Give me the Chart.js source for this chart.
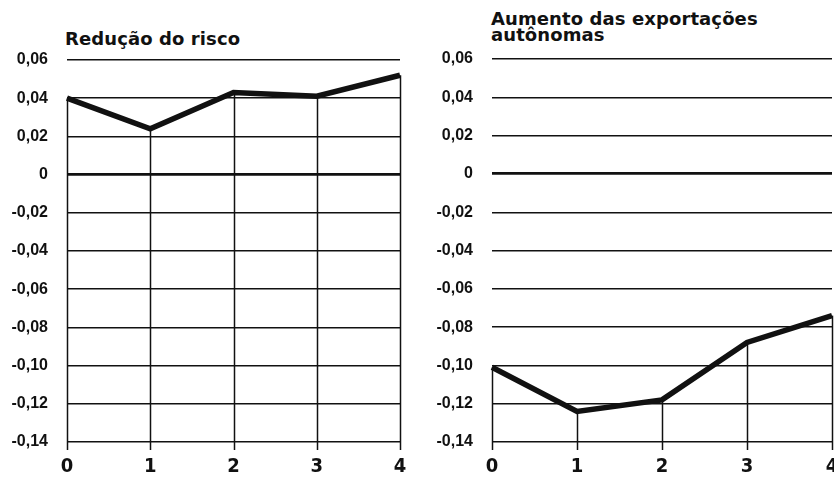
<!DOCTYPE html>
<html>
<head>
<meta charset="utf-8">
<script src="https://cdn.jsdelivr.net/npm/chart.js@4"></script>
<style>
  body { margin: 0; background: #fff; }
  #wrap { position: relative; width: 834px; height: 477px; overflow: hidden; }
  .box { position: absolute; top: 0; height: 477px; }
  .title { position: absolute; font: bold 18px 'DejaVu Sans', sans-serif; line-height: 16px; color: #111; letter-spacing: 0.1px; }
</style>
</head>
<body>
<div id="wrap">
  <div class="title" style="left:65px; top:31px;">Redução do risco</div>
  <div class="title" style="left:491px; top:11px;">Aumento das exportações<br>autônomas</div>
  <div class="box" style="left:0; width:420px;"><canvas id="left"></canvas></div>
  <div class="box" style="left:420px; width:414px;"><canvas id="right"></canvas></div>
</div>
<script>
// horizon (periods)
const periods = [0, 1, 2, 3, 4];
// impulse responses
const riskReduction = [0.040, 0.024, 0.043, 0.041, 0.052];
const exportIncrease = [-0.101, -0.124, -0.118, -0.088, -0.074];
// y axis range and step
const yMin = -0.14;
const yMax = 0.06;
const yStep = 0.02;

const fmt = v => Math.abs(v) < 1e-9 ? '0' : v.toFixed(2).replace('.', ',');

// vertical lines dropped from each point down past the axis
const dropLines = {
  id: 'dropLines',
  beforeDatasetsDraw(chart) {
    const { ctx, chartArea, scales } = chart;
    const ds = chart.data.datasets[0].data;
    ctx.save();
    ctx.strokeStyle = '#111';
    ctx.lineWidth = 1.5;
    ds.forEach(p => {
      const x = Math.round(scales.x.getPixelForValue(p.x)) + 0.5;
      const y = scales.y.getPixelForValue(p.y);
      ctx.beginPath();
      ctx.moveTo(x, y);
      ctx.lineTo(x, chartArea.bottom + 8);
      ctx.stroke();
    });
    ctx.restore();
  }
};

function makeChart(id, values, yWidth, padRight, top) {
  const el = document.getElementById(id);
  return new Chart(el, {
    type: 'line',
    data: {
      datasets: [{
        data: periods.map((p, i) => ({ x: p, y: values[i] })),
        borderColor: '#111',
        borderWidth: 5.5,
        pointRadius: 0,
        tension: 0,
        clip: 6
      }]
    },
    options: {
      responsive: true,
      maintainAspectRatio: false,
      animation: false,
      layout: { padding: { top: top, right: padRight, left: 0, bottom: 0 } },
      plugins: { legend: { display: false }, tooltip: { enabled: false } },
      scales: {
        x: {
          type: 'linear',
          min: 0, max: 4,
          grid: { display: false },
          border: { display: false },
          ticks: {
            stepSize: 1,
            padding: 5,
            color: '#111',
            font: { family: "'Liberation Sans Narrow', 'DejaVu Sans Condensed', sans-serif", weight: 'bold', size: 20 }
          },
          afterFit: s => { s.height = 35; s.paddingLeft = 0; s.paddingRight = 0; }
        },
        y: {
          min: yMin, max: yMax,
          border: { display: false },
          grid: {
            color: '#111',
            drawTicks: false,
            lineWidth: c => Math.abs(c.tick.value) < 1e-9 ? 2.8 : 1.4
          },
          ticks: {
            stepSize: yStep,
            padding: 19,
            color: '#111',
            callback: v => fmt(v),
            font: { family: "'Liberation Sans', Arial, sans-serif", weight: 'bold', size: 16 }
          },
          afterFit: s => { s.width = yWidth; }
        }
      }
    },
    plugins: [dropLines]
  });
}

makeChart('left', riskReduction, 67, 20, 60);
makeChart('right', exportIncrease, 72, 2, 59);
</script>
</body>
</html>
